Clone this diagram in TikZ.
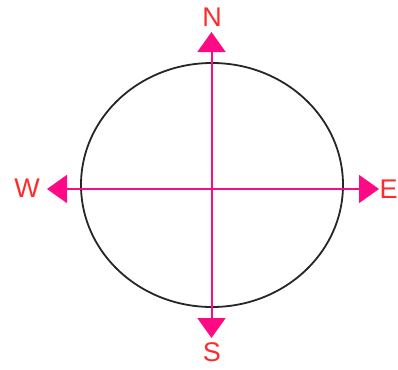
\documentclass[tikz,border=0pt]{standalone}
\usepackage{fontspec}
\setmainfont{Liberation Sans}
\usetikzlibrary{arrows.meta}
\definecolor{lineMag}{HTML}{FF0A85}
\definecolor{labRed}{HTML}{FF2A2A}
\tikzset{
  dirline/.style={draw=lineMag, line width=2pt, -{Triangle[length=20pt,width=28pt]}},
  dirlabel/.style={text=labRed, font=\fontsize{27}{27}\selectfont, inner sep=0pt},
  rim/.style={draw=black!85, line width=1.8pt}
}
\begin{document}
\begin{tikzpicture}[x=1pt,y=-1pt]
\useasboundingbox (0,0) rectangle (398,369);
\draw[rim] (212,185) ellipse [x radius=131pt, y radius=122pt];
\coordinate (c) at (211.5,189);
\coordinate (tn) at (211.5,32);
\coordinate (ts) at (211.5,338);
\coordinate (tw) at (47,189);
\coordinate (te) at (379,189);
\draw[dirline] (c) -- (tn);
\draw[dirline] (c) -- (ts);
\draw[dirline] (c) -- (tw);
\draw[dirline] (c) -- (te);
\node[dirlabel] (N) at (212,17) {N};
\node[dirlabel] (S) at (212,352) {S};
\node[dirlabel] (W) at (27,188) {W};
\node[dirlabel] (E) at (388.5,189) {E};
\end{tikzpicture}
\end{document}
